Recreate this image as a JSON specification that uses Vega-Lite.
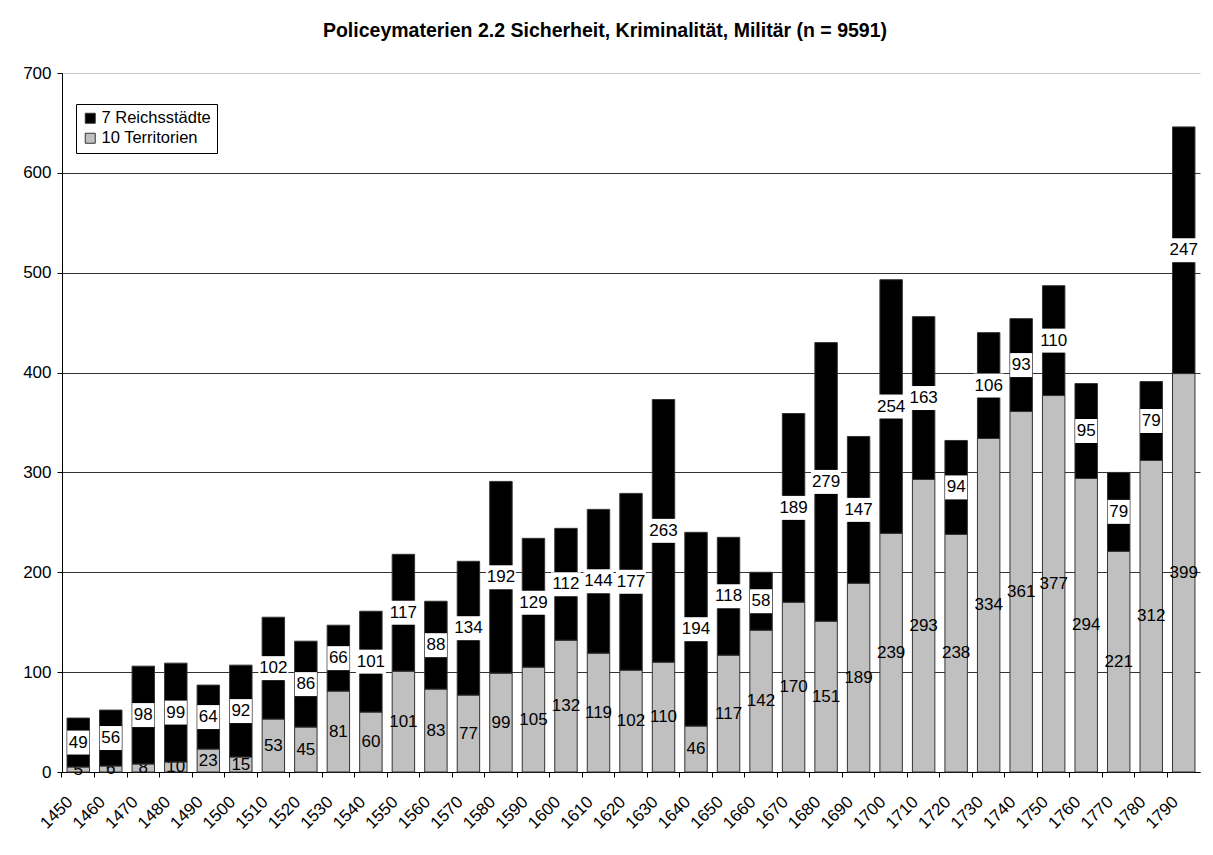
{
  "$schema": "https://vega.github.io/schema/vega-lite/v6.json",
  "autosize": {"type": "none"},
  "width": 1138,
  "height": 699,
  "padding": {"left": 62, "top": 73, "right": 13, "bottom": 83},
  "background": "white",
  "title": {
    "text": "Policeymaterien 2.2 Sicherheit, Kriminalität, Militär (n = 9591)",
    "font": "Liberation Sans", "fontSize": 19.5, "fontWeight": "bold", "color": "#000",
    "anchor": "middle", "frame": "group", "dx": -26, "offset": 23
  },
  "data": {"values": [
    {"year": "1450", "group": "10 Territorien", "value": 5}, {"year": "1450", "group": "7 Reichsstädte", "value": 49},
    {"year": "1460", "group": "10 Territorien", "value": 6}, {"year": "1460", "group": "7 Reichsstädte", "value": 56},
    {"year": "1470", "group": "10 Territorien", "value": 8}, {"year": "1470", "group": "7 Reichsstädte", "value": 98},
    {"year": "1480", "group": "10 Territorien", "value": 10}, {"year": "1480", "group": "7 Reichsstädte", "value": 99},
    {"year": "1490", "group": "10 Territorien", "value": 23}, {"year": "1490", "group": "7 Reichsstädte", "value": 64},
    {"year": "1500", "group": "10 Territorien", "value": 15}, {"year": "1500", "group": "7 Reichsstädte", "value": 92},
    {"year": "1510", "group": "10 Territorien", "value": 53}, {"year": "1510", "group": "7 Reichsstädte", "value": 102},
    {"year": "1520", "group": "10 Territorien", "value": 45}, {"year": "1520", "group": "7 Reichsstädte", "value": 86},
    {"year": "1530", "group": "10 Territorien", "value": 81}, {"year": "1530", "group": "7 Reichsstädte", "value": 66},
    {"year": "1540", "group": "10 Territorien", "value": 60}, {"year": "1540", "group": "7 Reichsstädte", "value": 101},
    {"year": "1550", "group": "10 Territorien", "value": 101}, {"year": "1550", "group": "7 Reichsstädte", "value": 117},
    {"year": "1560", "group": "10 Territorien", "value": 83}, {"year": "1560", "group": "7 Reichsstädte", "value": 88},
    {"year": "1570", "group": "10 Territorien", "value": 77}, {"year": "1570", "group": "7 Reichsstädte", "value": 134},
    {"year": "1580", "group": "10 Territorien", "value": 99}, {"year": "1580", "group": "7 Reichsstädte", "value": 192},
    {"year": "1590", "group": "10 Territorien", "value": 105}, {"year": "1590", "group": "7 Reichsstädte", "value": 129},
    {"year": "1600", "group": "10 Territorien", "value": 132}, {"year": "1600", "group": "7 Reichsstädte", "value": 112},
    {"year": "1610", "group": "10 Territorien", "value": 119}, {"year": "1610", "group": "7 Reichsstädte", "value": 144},
    {"year": "1620", "group": "10 Territorien", "value": 102}, {"year": "1620", "group": "7 Reichsstädte", "value": 177},
    {"year": "1630", "group": "10 Territorien", "value": 110}, {"year": "1630", "group": "7 Reichsstädte", "value": 263},
    {"year": "1640", "group": "10 Territorien", "value": 46}, {"year": "1640", "group": "7 Reichsstädte", "value": 194},
    {"year": "1650", "group": "10 Territorien", "value": 117}, {"year": "1650", "group": "7 Reichsstädte", "value": 118},
    {"year": "1660", "group": "10 Territorien", "value": 142}, {"year": "1660", "group": "7 Reichsstädte", "value": 58},
    {"year": "1670", "group": "10 Territorien", "value": 170}, {"year": "1670", "group": "7 Reichsstädte", "value": 189},
    {"year": "1680", "group": "10 Territorien", "value": 151}, {"year": "1680", "group": "7 Reichsstädte", "value": 279},
    {"year": "1690", "group": "10 Territorien", "value": 189}, {"year": "1690", "group": "7 Reichsstädte", "value": 147},
    {"year": "1700", "group": "10 Territorien", "value": 239}, {"year": "1700", "group": "7 Reichsstädte", "value": 254},
    {"year": "1710", "group": "10 Territorien", "value": 293}, {"year": "1710", "group": "7 Reichsstädte", "value": 163},
    {"year": "1720", "group": "10 Territorien", "value": 238}, {"year": "1720", "group": "7 Reichsstädte", "value": 94},
    {"year": "1730", "group": "10 Territorien", "value": 334}, {"year": "1730", "group": "7 Reichsstädte", "value": 106},
    {"year": "1740", "group": "10 Territorien", "value": 361}, {"year": "1740", "group": "7 Reichsstädte", "value": 93},
    {"year": "1750", "group": "10 Territorien", "value": 377}, {"year": "1750", "group": "7 Reichsstädte", "value": 110},
    {"year": "1760", "group": "10 Territorien", "value": 294}, {"year": "1760", "group": "7 Reichsstädte", "value": 95},
    {"year": "1770", "group": "10 Territorien", "value": 221}, {"year": "1770", "group": "7 Reichsstädte", "value": 79},
    {"year": "1780", "group": "10 Territorien", "value": 312}, {"year": "1780", "group": "7 Reichsstädte", "value": 79},
    {"year": "1790", "group": "10 Territorien", "value": 399}, {"year": "1790", "group": "7 Reichsstädte", "value": 247}
  ]},
  "transform": [
    {"stack": "value", "groupby": ["year"], "sort": [{"field": "group", "order": "ascending"}], "as": ["y0", "y1"]},
    {"calculate": "(datum.y0 + datum.y1) / 2", "as": "mid"}
  ],
  "layer": [
    {
      "transform": [{"filter": "datum.group === '10 Territorien'"}],
      "mark": {"type": "bar", "stroke": "#333", "strokeWidth": 1},
      "encoding": {
        "x": {"field": "year", "type": "ordinal", "title": null,
          "scale": {"paddingInner": 0.31, "paddingOuter": 0.155},
          "axis": {"labelAngle": -45, "labelAlign": "right", "labelBaseline": "middle", "labelFontSize": 17, "labelColor": "#000",
            "labelPadding": 22, "labelOffset": -8, "bandPosition": -0.225, "tickSize": 5, "tickColor": "#000", "domainColor": "#000", "grid": false}},
        "y": {"field": "y0", "type": "quantitative", "title": null,
          "scale": {"domain": [0, 700], "nice": false},
          "axis": {"values": [0, 100, 200, 300, 400, 500, 600, 700], "labelFontSize": 17, "labelColor": "#000", "labelPadding": 6,
            "tickSize": 5, "tickColor": "#000", "domainColor": "#000", "grid": true,
            "gridColor": {"condition": {"test": "datum.value === 700", "value": "#cccccc"}, "value": "#333333"}}},
        "y2": {"field": "y1"},
        "color": {"field": "group", "type": "nominal",
          "scale": {"domain": ["7 Reichsstädte", "10 Territorien"], "range": ["#000000", "#C0C0C0"]},
          "legend": {"title": null, "orient": "none", "legendX": 14, "legendY": 31, "strokeColor": "#000", "fillColor": "#fff",
            "padding": 6, "labelFontSize": 16.5, "labelColor": "#000", "symbolType": "square", "symbolSize": 100,
            "symbolStrokeColor": "#000", "symbolStrokeWidth": 1, "rowPadding": 3, "labelOffset": 3, "cornerRadius": 0}}
      }
    },
    {
      "transform": [{"filter": "datum.group === '10 Territorien'"}],
      "mark": {"type": "text", "fontSize": 17, "color": "#000", "baseline": "middle", "align": "center"},
      "encoding": {
        "x": {"field": "year", "type": "ordinal"},
        "y": {"field": "mid", "type": "quantitative"},
        "text": {"field": "value", "type": "quantitative"}
      }
    },
    {
      "transform": [{"filter": "datum.group === '7 Reichsstädte'"}],
      "mark": {"type": "bar", "stroke": "#333", "strokeWidth": 1},
      "encoding": {
        "x": {"field": "year", "type": "ordinal"},
        "y": {"field": "y0", "type": "quantitative"},
        "y2": {"field": "y1"},
        "color": {"field": "group", "type": "nominal"}
      }
    },
    {
      "transform": [{"filter": "datum.group === '7 Reichsstädte'"}],
      "mark": {"type": "point", "filled": true, "fill": "#fff", "opacity": 1, "strokeWidth": 0, "size": 576},
      "encoding": {
        "x": {"field": "year", "type": "ordinal"},
        "y": {"field": "mid", "type": "quantitative"},
        "shape": {"condition": {"test": "datum.value >= 100", "value": "M-1.25,-1H1.25V1H-1.25Z"}, "value": "M-0.92,-1H0.92V1H-0.92Z"}
      }
    },
    {
      "transform": [{"filter": "datum.group === '7 Reichsstädte'"}],
      "mark": {"type": "text", "fontSize": 17, "color": "#000", "baseline": "middle", "align": "center"},
      "encoding": {
        "x": {"field": "year", "type": "ordinal"},
        "y": {"field": "mid", "type": "quantitative"},
        "text": {"field": "value", "type": "quantitative"}
      }
    }
  ],
  "config": {
    "font": "Liberation Sans",
    "view": {"stroke": null},
    "axis": {"labelFont": "Liberation Sans"},
    "legend": {"labelFont": "Liberation Sans"}
  }
}
